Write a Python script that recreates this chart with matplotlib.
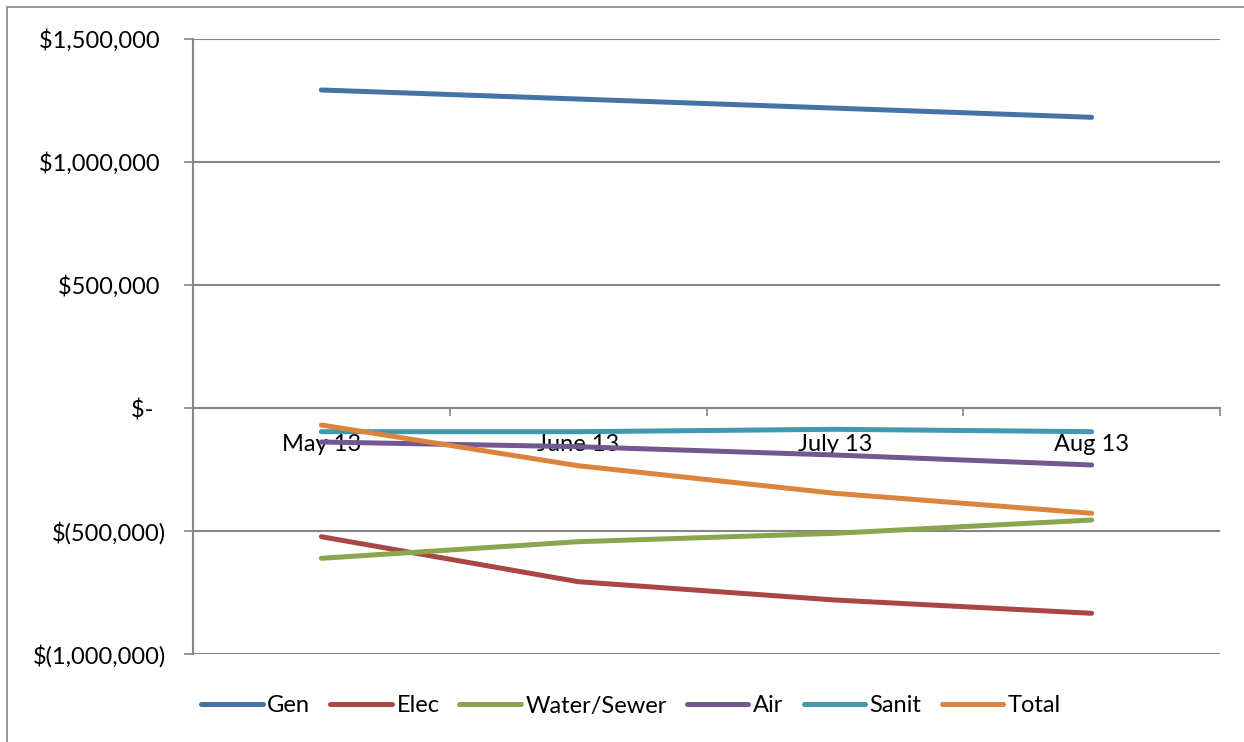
"""
Monthly balance by department, May to August
"""

import matplotlib.pyplot as plt
from matplotlib.patches import Rectangle

months = ["May 13", "June 13", "July 13", "Aug 13"]

gen = [1292700, 1256000, 1219000, 1181700]
elec = [-523200, -706100, -780500, -834600]
water_sewer = [-611000, -543500, -509400, -455300]
air = [-138200, -157300, -191100, -231700]
sanit = [-96300, -96300, -86600, -96300]
total = [-69100, -234600, -346800, -428000]

y_ticks = [1500000, 1000000, 500000, 0, -500000, -1000000]
y_labels = ["$1,500,000 ", "$1,000,000 ", "$500,000 ", "$-  ",
            "$(500,000)", "$(1,000,000)"]

series = [
    ("Gen", gen, "#4572A7"),
    ("Elec", elec, "#AA4643"),
    ("Water/Sewer", water_sewer, "#89A54E"),
    ("Air", air, "#71588F"),
    ("Sanit", sanit, "#4198AF"),
    ("Total", total, "#DB843D"),
]

GRAY = "#868686"

plt.rcParams["font.family"] = ["Lato", "DejaVu Sans"]
plt.rcParams["font.size"] = 17

fig = plt.figure(figsize=(12.44, 7.42), dpi=100)
ax = fig.add_axes([193 / 1244, 1 - 654 / 742, 1027 / 1244, 615 / 742])

# chart area border
fig.patches.append(Rectangle((7 / 1244, -0.5), 2, 1.5 - 7 / 742,
                             transform=fig.transFigure, fill=False,
                             edgecolor=GRAY, linewidth=1.2))

x = list(range(len(months)))
for name, vals, color in series:
    ax.plot(x, vals, color=color, linewidth=3.6, label=name,
            solid_capstyle="round", solid_joinstyle="round", zorder=3)

ax.set_xlim(-0.5, len(months) - 0.5)
ax.set_ylim(-1000000, 1500000)

ax.set_yticks(y_ticks)
ax.set_yticklabels(y_labels)
ax.yaxis.grid(True, color=GRAY, linewidth=1.5)
ax.set_axisbelow(True)
ax.tick_params(axis="y", length=6.5, width=1.2, color=GRAY, pad=13)

# category axis sits on the zero line
ax.spines["bottom"].set_position(("data", 0))
ax.set_xticks([i + 0.5 for i in x])
ax.set_xticklabels([])
ax.set_xticks(x, minor=True)
ax.set_xticklabels(months, minor=True)
ax.tick_params(axis="x", which="major", length=6, width=1.2, color=GRAY)
ax.tick_params(axis="x", which="minor", length=0, pad=19)

for side in ["top", "right"]:
    ax.spines[side].set_visible(False)
for side in ["left", "bottom"]:
    ax.spines[side].set_color(GRAY)
    ax.spines[side].set_linewidth(1.5)

fig.legend(loc="center", bbox_to_anchor=(631 / 1244, 1 - 706 / 742),
           ncol=6, frameon=False, handlelength=2.6, handletextpad=0.2,
           columnspacing=0.85, fontsize=17)

fig.savefig("out.png", dpi=100)
